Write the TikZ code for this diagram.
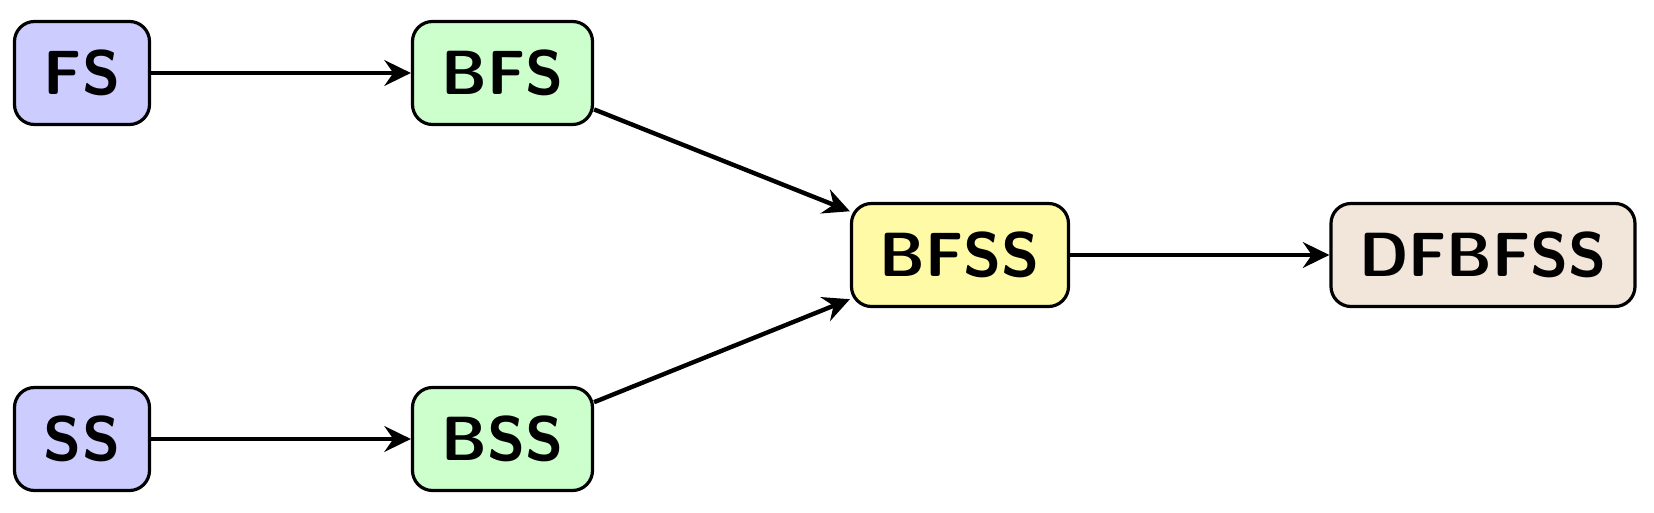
\documentclass[tikz,border=0pt]{standalone}
\usetikzlibrary{arrows.meta}
\begin{document}
\begin{tikzpicture}[x=0.25pt,y=-0.25pt,
  box/.style={draw=black, line width=0.8pt, rounded corners=5pt, minimum height=25.75pt,
    inner sep=0pt, font=\fontsize{15.6}{18}\selectfont\sffamily\bfseries},
  conn/.style={line width=1.1pt,-{Stealth[length=6.6pt,width=6.4pt,inset=2.2pt]}}]
\useasboundingbox (0,0) rectangle (1654,513);
\node[box, fill=blue!20, minimum width=33.75pt] (FS) at (82,73) {FS};
\node[box, fill=green!20, minimum width=45pt] (BFS) at (502.5,73) {BFS};
\node[box, fill=blue!20, minimum width=33.75pt] (SS) at (82,439) {SS};
\node[box, fill=green!20, minimum width=45pt] (BSS) at (502.5,439) {BSS};
\node[box, fill=yellow!35, minimum width=54.25pt] (BFSS) at (960,255) {BFSS};
\node[box, fill=brown!20, minimum width=76pt] (DFBFSS) at (1483,255) {DFBFSS};
\draw[conn] (FS) -- (BFS);
\draw[conn] (SS) -- (BSS);
\draw[conn] (BFS) -- (BFSS);
\draw[conn] (BSS) -- (BFSS);
\draw[conn] (BFSS) -- (DFBFSS);
\end{tikzpicture}
\end{document}
